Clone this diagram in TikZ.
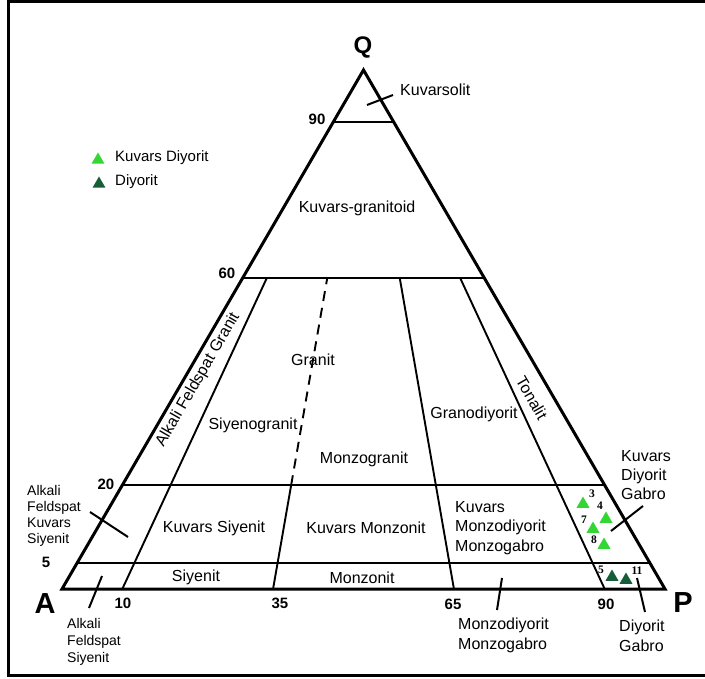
\documentclass[tikz,border=0pt]{standalone}
\usepackage{xcolor}
\usepackage{fontspec}
\setmainfont{Liberation Sans}
\newfontfamily\numfont{Liberation Serif}
\usetikzlibrary{calc,shapes.geometric}

\definecolor{qdiyorit}{RGB}{51,214,51}
\definecolor{diyorit}{RGB}{22,94,56}

\tikzset{
  edge/.style={line width=3pt},
  field/.style={line width=1.9pt},
  lead/.style={line width=2pt},
  rock/.style={font=\fontsize{16}{19.5}\selectfont, align=left, inner sep=0pt},
  side/.style={font=\fontsize{14}{16.5}\selectfont, align=left, inner sep=0pt},
  tick/.style={font=\fontsize{15}{15}\selectfont\bfseries, inner sep=0pt},
  corner/.style={font=\fontsize{29}{29}\selectfont\bfseries, inner sep=0pt},
  sample/.style={regular polygon, regular polygon sides=3, minimum size=15pt,
    inner sep=0pt, draw=none, fill=#1},
  num/.style={font=\numfont\fontsize{11.5}{11.5}\selectfont\bfseries, inner sep=0pt}
}

\begin{document}
\begin{tikzpicture}[x=1pt,y=-1pt]
    \useasboundingbox (0,0) rectangle (705,679);
    \draw [line width=3pt] (706,1.3) -- (8.5,1.3) -- (8.5,675) -- (706,675);

    % corners of the triangle
    \coordinate (A) at (62,589);
    \coordinate (P) at (665,589);
    \coordinate (Q) at (363.5,70);
    \node [corner,font=\fontsize{24}{24}\selectfont\bfseries] (labq) at (363,47) {Q};
    \node [corner] (laba) at (45,604) {A};
    \node [corner] (labp) at (683,603) {P};

    % Q lines
    \draw [field] ($(A)!0.9!(Q)$) -- ($(P)!0.9!(Q)$);
    \draw [field] ($(A)!0.6!(Q)$) -- ($(P)!0.6!(Q)$);
    \draw [field] ($(A)!0.2!(Q)$) -- ($(P)!0.2!(Q)$);
    \draw [field] ($(A)!0.05!(Q)$) -- ($(P)!0.05!(Q)$);

    % lines towards Q
    \coordinate (b10) at ($(A)!0.1!(P)$);
    \coordinate (b35) at ($(A)!0.35!(P)$);
    \coordinate (b65) at ($(A)!0.65!(P)$);
    \coordinate (b90) at ($(A)!0.9!(P)$);
    \draw [field] (b10) -- ($(b10)!0.6!(Q)$);
    \draw [field] (b35) -- ($(b35)!0.2!(Q)$);
    \draw [field,dash pattern=on 10pt off 7pt] ($(b35)!0.2!(Q)$) -- ($(b35)!0.6!(Q)$);
    \draw [field] (b65) -- ($(b65)!0.6!(Q)$);
    \draw [field] (b90) -- ($(b90)!0.6!(Q)$);

    \draw [edge,line join=miter] (A) -- (P) -- (Q) -- cycle;

    % values
    \node [tick] (t90q) at (317,119) {90};
    \node [tick] (t60q) at (227,273) {60};
    \node [tick] (t20q) at (106,484) {20};
    \node [tick] (t5q) at (46,562) {5};
    \node [tick] (t10) at (123,603) {10};
    \node [tick] (t35) at (280,603) {35};
    \node [tick] (t65) at (453,604) {65};
    \node [tick] (t90) at (606,604) {90};

    % fields
    \node [rock] (kgran) at (357,208) {Kuvars-granitoid};
    \node [rock,rotate=60] (afgran) at (198,380) {Alkali Feldspat Granit};
    \node [rock,rotate=-60] (tonal) at (532,398) {Tonalit};
    \node [rock] (gran) at (313,360) {Granit};
    \node [rock] (sgran) at (253,425) {Siyenogranit};
    \node [rock] (mgran) at (364,459) {Monzogranit};
    \node [rock] (gdiy) at (474,414) {Granodiyorit};
    \node [rock] (ksiy) at (214,528) {Kuvars Siyenit};
    \node [rock] (kmon) at (366,528) {Kuvars Monzonit};
    \node [rock,anchor=base west] (kmdiy) at (455,551) {Kuvars\\Monzodiyorit\\Monzogabro};
    \node [rock] (siy) at (196,577) {Siyenit};
    \node [rock] (mon) at (362,578) {Monzonit};

    % outside names
    \coordinate (kso1) at (367,105);
    \coordinate (kso2) at (393,95);
    \draw [lead] (kso1) -- (kso2);
    \node [rock,anchor=west] (kso) at (400,90) {Kuvarsolit};

    \coordinate (afks1) at (90,512);
    \coordinate (afks2) at (128,537);
    \draw [lead] (afks1) -- (afks2);
    \node [side,font=\fontsize{14}{15.8}\selectfont,anchor=base west] (afks) at (27,543) {Alkali\\Feldspat\\Kuvars\\Siyenit};

    \coordinate (afs1) at (102,576);
    \coordinate (afs2) at (89,608);
    \draw [lead] (afs1) -- (afs2);
    \node [side,font=\fontsize{14}{17}\selectfont,anchor=base west] (afs) at (67,662) {Alkali\\Feldspat\\Siyenit};

    \coordinate (mdg1) at (502,578);
    \coordinate (mdg2) at (497,610);
    \draw [lead] (mdg1) -- (mdg2);
    \node [rock,anchor=base west] (mdg) at (458,649) {Monzodiyorit\\Monzogabro};

    \coordinate (dg1) at (637,578);
    \coordinate (dg2) at (645,612);
    \draw [lead] (dg1) -- (dg2);
    \node [rock,anchor=base west] (dg) at (619,651) {Diyorit\\Gabro};

    \coordinate (kdg1) at (643,506);
    \coordinate (kdg2) at (611,531);
    \draw [lead] (kdg1) -- (kdg2);
    \node [rock,font=\fontsize{16}{19}\selectfont,anchor=base west] (kdg) at (621,499) {Kuvars\\Diyorit\\Gabro};

    % samples
    \foreach \px/\py/\col/\nx/\ny/\n in {583/502/qdiyorit/592/494/3, 606/517/qdiyorit/600/506/4,
        593/527/qdiyorit/584/520/7, 604/543/qdiyorit/594/540/8,
        612/575/diyorit/601/570/5, 626/578/diyorit/637/571/11}
    {
      \node [sample=\col] (s\n) at (\px,\py+2) {};
      \node [num] (n\n) at (\nx,\ny) {\n};
    }

    % legend
    \node [sample=qdiyorit] (leg1) at (98,160) {};
    \node [rock,font=\fontsize{15}{15}\selectfont,anchor=west] (legt1) at (115,158) {Kuvars Diyorit};
    \node [sample=diyorit] (leg2) at (99,184) {};
    \node [rock,font=\fontsize{15}{15}\selectfont,anchor=west] (legt2) at (115,182) {Diyorit};
\end{tikzpicture}
\end{document}
